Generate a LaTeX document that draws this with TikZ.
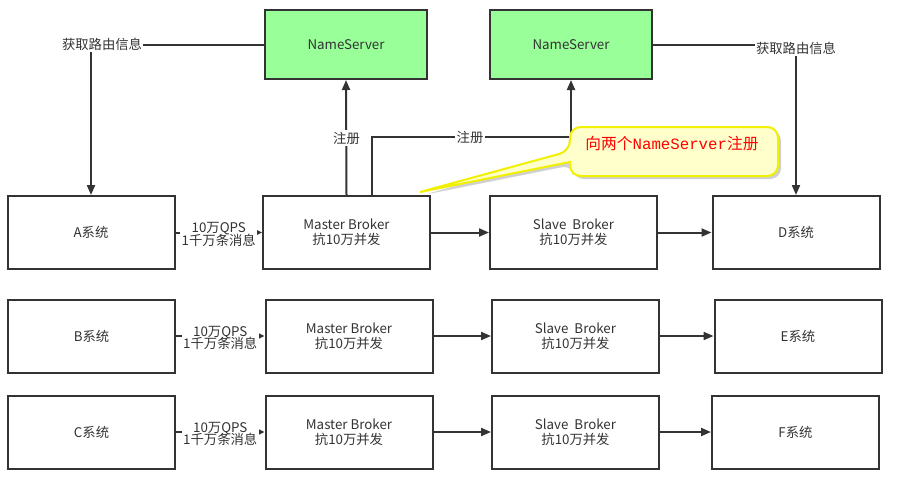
\documentclass[tikz,border=0pt]{standalone}
\usepackage{fontspec}
\setmainfont{Noto Sans CJK SC}
\newfontfamily\cjkfont{Noto Sans CJK SC}
\newfontfamily\codefont{Liberation Mono}
\usetikzlibrary{arrows.meta}
\definecolor{ink}{HTML}{333333}
\definecolor{nsgreen}{HTML}{99FF99}
\definecolor{notefill}{HTML}{FFFFCC}
\definecolor{noteline}{HTML}{F0F000}
\begin{document}
\begin{tikzpicture}[x=0.75pt,y=-0.75pt,
  font=\fontsize{10pt}{11.5pt}\selectfont, text=ink,
  box/.style={draw=ink, line width=1.5pt, minimum width=125.25pt, minimum height=54.75pt, align=center, inner sep=0pt},
  ns/.style={box, fill=nsgreen, minimum width=121.5pt, minimum height=51.75pt},
  link/.style={draw=ink, line width=1.5pt},
  arr/.style={link, -{Triangle[length=7.5pt,width=6pt]}},
  smallarr/.style={link, -{Triangle[length=4.5pt,width=4pt]}},
  tag/.style={fill=white, inner sep=1pt, align=center}]
\useasboundingbox (0,0) rectangle (907,487);
\fill[white] (0,0) rectangle (907,487);

% name servers
\node[ns] (NS1) at (346,44.5) {NameServer};
\node[ns] (NS2) at (571,44.5) {NameServer};

% row 1
\node[box] (A)   at (91,232.5)    {A系统};
\node[box] (MB1) at (346.5,232.5) {Master Broker\\抗10万并发};
\node[box] (SB1) at (573.5,232.5) {Slave\ \ Broker\\抗10万并发};
\node[box] (D)   at (796,232.5)   {D系统};
% row 2
\node[box] (B)   at (91.5,336)  {B系统};
\node[box] (MB2) at (349,336)   {Master Broker\\抗10万并发};
\node[box] (SB2) at (575.5,336) {Slave\ \ Broker\\抗10万并发};
\node[box] (E)   at (798,336)   {E系统};
% row 3
\node[box] (C)   at (91.5,432)  {C系统};
\node[box] (MB3) at (349,432)   {Master Broker\\抗10万并发};
\node[box] (SB3) at (575.5,432) {Slave\ \ Broker\\抗10万并发};
\node[box] (F)   at (795.5,432) {F系统};

% producers to master brokers
\foreach \p/\m in {A/MB1, B/MB2, C/MB3}{
  \draw[smallarr] (\p.east) -- (\m.west)
    node[tag, midway, yshift=-1.5pt] {10万QPS\\[-2pt]1千万条消息};
}
% master -> slave -> consumer
\foreach \m/\s/\c in {MB1/SB1/D, MB2/SB2/E, MB3/SB3/F}{
  \draw[arr] (\m) -- (\s);
  \draw[arr] (\s) -- (\c);
}

% routing lookups
\coordinate (lk1) at (91,44.5);
\coordinate (lk2) at (796,44.5);
\draw[arr] (NS1.west) -- (lk1) -- (A.north);
\node[tag] (rt1) at (102,44.5) {获取路由信息};
\draw[arr] (NS2.east) -- (lk2) -- (D.north);
\node[tag] (rt2) at (796,48) {获取路由信息};

% registration with both name servers
\draw[arr] (MB1.north) -- (NS1.south);
\node[tag] (rg1) at (346.5,138) {注册};
\coordinate (rgturn) at (372,137);
\draw[arr] (MB1.north -| rgturn) -- (rgturn) -| (NS2.south);
\node[tag] (rg2) at (470,137) {注册};

% note balloon
\coordinate (tip) at (420,192);
\fill[black!30, opacity=0.6, rounded corners=8]
  (573,165) -- (573,179) -- (781,179) -- (781,130) -- (573,130) -- (573,153) -- (423,195) -- cycle;
\filldraw[fill=notefill, draw=noteline, line width=1.5pt, line join=miter]
  (570,162) [rounded corners=8] -- (570,176) -- (778,176) -- (778,127) -- (570,127) -- (570,151) [sharp corners] -- (tip) -- cycle;
\node[text=red, font=\fontsize{11.8pt}{13pt}\selectfont] (note) at (672,144)
  {\cjkfont 向两个\codefont NameServer\cjkfont 注册};
\end{tikzpicture}
\end{document}
